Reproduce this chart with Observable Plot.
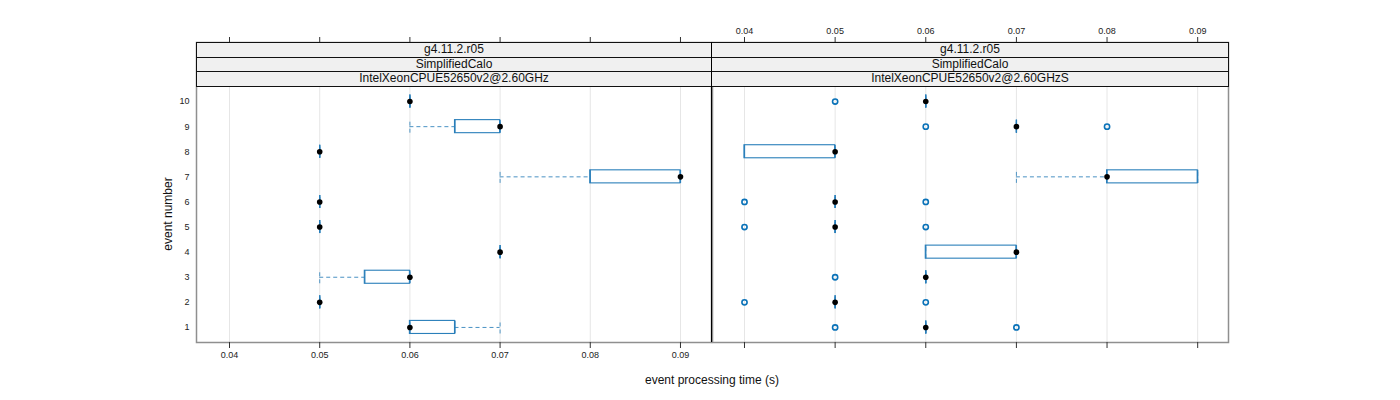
<!DOCTYPE html>
<html>
<head>
<meta charset="utf-8">
<script src="https://cdn.jsdelivr.net/npm/d3@7"></script>
<script src="https://cdn.jsdelivr.net/npm/@observablehq/plot@0.6"></script>
<style>
  html, body { margin: 0; padding: 0; background: #fff; }
  #wrap { position: relative; width: 1400px; height: 400px; font-family: "Liberation Sans", Arial, sans-serif; }
  #wrap svg { position: absolute; top: 0; overflow: visible; }
  .strip { position: absolute; box-sizing: border-box; background: #f0f0f0; border: 1px solid #111;
           font-size: 12px; color: #111; text-align: center; line-height: 13.5px; }
  .lbl { position: absolute; font-size: 12px; color: #111; }
</style>
</head>
<body>
<div id="wrap"></div>
<script>
// ---------- data ----------
const events = [1, 2, 3, 4, 5, 6, 7, 8, 9, 10];
const stripLabels1 = ["g4.11.2.r05", "SimplifiedCalo", "IntelXeonCPUE52650v2@2.60GHz"];
const stripLabels2 = ["g4.11.2.r05", "SimplifiedCalo", "IntelXeonCPUE52650v2@2.60GHzS"];
const xTicks = [0.04, 0.05, 0.06, 0.07, 0.08, 0.09];

// panel 1 : IntelXeonCPUE52650v2@2.60GHz
const p1WhiskerLow  = [0.06, 0.05, 0.05,  0.07, 0.05, 0.05, 0.07, 0.05, 0.06,  0.06];
const p1Q1          = [0.06, 0.05, 0.055, 0.07, 0.05, 0.05, 0.08, 0.05, 0.065, 0.06];
const p1Median      = [0.06, 0.05, 0.06,  0.07, 0.05, 0.05, 0.09, 0.05, 0.07,  0.06];
const p1Q3          = [0.065,0.05, 0.06,  0.07, 0.05, 0.05, 0.09, 0.05, 0.07,  0.06];
const p1WhiskerHigh = [0.07, 0.05, 0.06,  0.07, 0.05, 0.05, 0.09, 0.05, 0.07,  0.06];
const p1Outliers    = [[], [], [], [], [], [], [], [], [], []];

// panel 2 : IntelXeonCPUE52650v2@2.60GHzS
const p2WhiskerLow  = [0.06, 0.05, 0.06, 0.06, 0.05, 0.05, 0.07, 0.04, 0.07, 0.06];
const p2Q1          = [0.06, 0.05, 0.06, 0.06, 0.05, 0.05, 0.08, 0.04, 0.07, 0.06];
const p2Median      = [0.06, 0.05, 0.06, 0.07, 0.05, 0.05, 0.08, 0.05, 0.07, 0.06];
const p2Q3          = [0.06, 0.05, 0.06, 0.07, 0.05, 0.05, 0.09, 0.05, 0.07, 0.06];
const p2WhiskerHigh = [0.06, 0.05, 0.06, 0.07, 0.05, 0.05, 0.09, 0.05, 0.07, 0.06];
const p2Outliers    = [[0.05, 0.07], [0.04, 0.06], [0.05], [], [0.04, 0.06], [0.04, 0.06], [], [], [0.06, 0.08], [0.05]];

// ---------- helpers ----------
const BLUE = "#2a7fba";
const HALF = 0.26;
const Y_DOMAIN = [0.4, 10.6];

function table(wl, q1, med, q3, wh) {
  return events.map((e, i) => ({event: e, wl: wl[i], q1: q1[i], med: med[i], q3: q3[i], wh: wh[i]}));
}
function outlierTable(out) {
  return events.flatMap((e, i) => out[i].map(v => ({event: e, v})));
}

function panel(rows, outs, opts) {
  const marks = [
    Plot.ruleX(xTicks, {x: d => d, y1: Y_DOMAIN[0], y2: Y_DOMAIN[1], stroke: "#e6e6e6", strokeWidth: 1}),
    // whiskers
    Plot.ruleY(rows.filter(d => d.wl < d.q1), {y: "event", x1: "wl", x2: "q1", stroke: BLUE, strokeDasharray: "4,3", strokeOpacity: 0.85}),
    Plot.ruleY(rows.filter(d => d.wh > d.q3), {y: "event", x1: "q3", x2: "wh", stroke: BLUE, strokeDasharray: "4,3", strokeOpacity: 0.85}),
    // whisker caps
    Plot.ruleX(rows, {x: "wl", y1: d => d.event - HALF, y2: d => d.event + HALF, stroke: BLUE, strokeDasharray: "4,3", strokeOpacity: 0.8}),
    Plot.ruleX(rows, {x: "wh", y1: d => d.event - HALF, y2: d => d.event + HALF, stroke: BLUE, strokeDasharray: "4,3", strokeOpacity: 0.8}),
    // box
    Plot.rect(rows.filter(d => d.q3 > d.q1), {x1: "q1", x2: "q3", y1: d => d.event - HALF, y2: d => d.event + HALF, fill: "none", stroke: BLUE, strokeWidth: 1.1}),
    Plot.ruleX(rows, {x: "q1", y1: d => d.event - HALF, y2: d => d.event + HALF, stroke: BLUE, strokeWidth: 1.3}),
    Plot.ruleX(rows, {x: "q3", y1: d => d.event - HALF, y2: d => d.event + HALF, stroke: BLUE, strokeWidth: 1.3}),
    // outliers
    Plot.dot(outs, {x: "v", y: "event", r: 2.6, stroke: "#0a72b8", strokeWidth: 1.6, fill: "none"}),
    // median
    Plot.dot(rows, {x: "med", y: "event", r: 2.8, fill: "#000", stroke: "none"}),
    Plot.frame({stroke: "#8f8f8f", strokeWidth: 1.5}),
    Plot.axisX({anchor: "top", ticks: xTicks, tickSize: 6, tickPadding: 3, fontSize: 9,
                tickFormat: opts.topLabels ? (d => d3.format(".2f")(d)) : (() => ""), label: null, stroke: "#333", fill: "#222"}),
    Plot.axisX({anchor: "bottom", ticks: xTicks, tickSize: 6, tickPadding: 3, fontSize: 9,
                tickFormat: opts.bottomLabels ? (d => d3.format(".2f")(d)) : (() => ""), label: null, stroke: "#333", fill: "#222"})
  ];
  if (opts.yAxis) {
    marks.push(Plot.axisY({anchor: "left", ticks: events, tickSize: 0, tickPadding: 7, fontSize: 9, label: null, fill: "#222"}));
  }
  return Plot.plot({
    width: opts.width, height: 400,
    marginLeft: opts.marginLeft, marginRight: opts.marginRight,
    marginTop: 42, marginBottom: 58,
    style: {fontFamily: "Liberation Sans, Arial, sans-serif", background: "transparent"},
    x: {domain: opts.xDomain},
    y: {domain: Y_DOMAIN, range: [342, 86], axis: opts.yAxis ? undefined : null},
    marks
  });
}

const wrap = document.getElementById("wrap");

const svg1 = panel(table(p1WhiskerLow, p1Q1, p1Median, p1Q3, p1WhiskerHigh), outlierTable(p1Outliers),
  {width: 712, marginLeft: 196, marginRight: 1, yAxis: true, topLabels: false, bottomLabels: true, xDomain: [0.03634, 0.09344]});
svg1.style.left = "0px";
wrap.appendChild(svg1);

const svg2 = panel(table(p2WhiskerLow, p2Q1, p2Median, p2Q3, p2WhiskerHigh), outlierTable(p2Outliers),
  {width: 689, marginLeft: 1, marginRight: 172, yAxis: false, topLabels: true, bottomLabels: false, xDomain: [0.03647, 0.0934]});
svg2.style.left = "711px";
wrap.appendChild(svg2);

// strips
function strips(labels, left, width) {
  labels.forEach((t, i) => {
    const d = document.createElement("div");
    d.className = "strip";
    d.style.left = left + "px";
    d.style.width = width + "px";
    d.style.top = (42 + i * 14.7) + "px";
    d.style.height = "15.7px";
    d.textContent = t;
    wrap.appendChild(d);
  });
}
strips(stripLabels1, 196, 516);
strips(stripLabels2, 711, 518);

// panel separator
const sep = document.createElement("div");
sep.style.cssText = "position:absolute;left:711px;top:42px;width:1px;height:300px;background:#000;";
wrap.appendChild(sep);

// axis titles
const xl = document.createElement("div");
xl.className = "lbl";
xl.textContent = "event processing time (s)";
xl.style.cssText += "left:0;width:1424px;text-align:center;top:373px;";
wrap.appendChild(xl);

const yl = document.createElement("div");
yl.className = "lbl";
yl.textContent = "event number";
yl.style.cssText += "left:168px;top:214px;transform:translate(-50%,-50%) rotate(-90deg);white-space:nowrap;";
wrap.appendChild(yl);
</script>
</body>
</html>
